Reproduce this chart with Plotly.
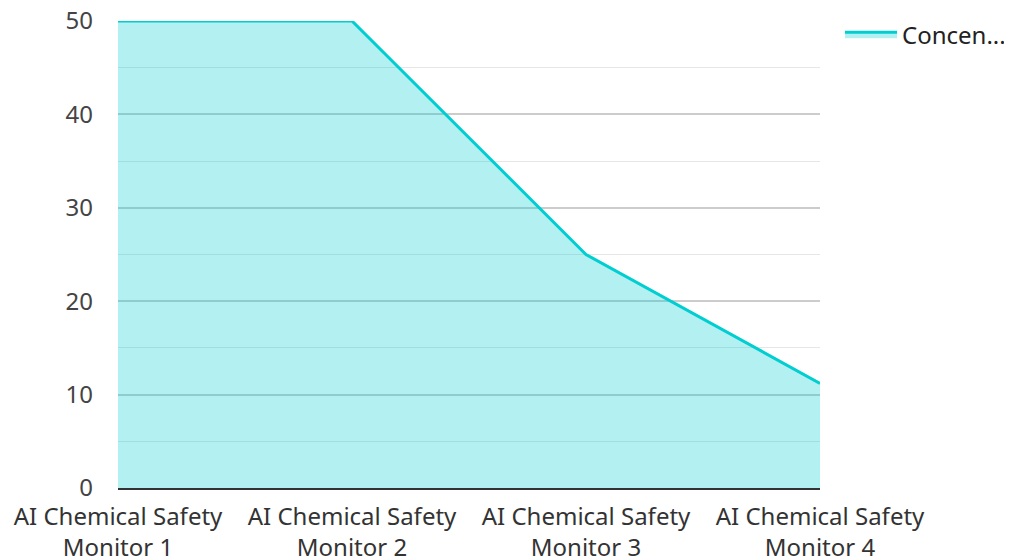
import plotly.graph_objects as go

categories = ["AI Chemical Safety<br>Monitor 1", "AI Chemical Safety<br>Monitor 2",
              "AI Chemical Safety<br>Monitor 3", "AI Chemical Safety<br>Monitor 4"]
values = [50, 50, 25, 11.2]
series_name = "Concen..."

line_color = "#00CED1"
fill_color = "rgba(0,206,209,0.3)"
font_family = "Noto Sans, Open Sans, sans-serif"

fig = go.Figure()
fig.add_trace(go.Scatter(
    x=categories, y=values, mode="lines", name=series_name,
    line=dict(color=line_color, width=3),
    fill="tozeroy", fillcolor=fill_color,
    showlegend=True,
))

fig.update_layout(
    width=1004, height=552,
    margin=dict(l=110, r=192, t=13, b=72, autoexpand=False),
    paper_bgcolor="white", plot_bgcolor="white",
    font=dict(family=font_family, size=24, color="#444"),
    showlegend=True,
    legend=dict(x=1.0285, y=1.019, xanchor="left", yanchor="top",
                itemwidth=52,
                font=dict(size=24, color="#222"), bgcolor="rgba(0,0,0,0)"),
    xaxis=dict(
        type="category", range=[0, 3], showgrid=False, zeroline=False,
        showline=True, linecolor="#333", linewidth=2, ticks="",
        tickfont=dict(size=24, color="#333"),
        ticklabelstandoff=6, ticklabeloverflow="allow",
    ),
    yaxis=dict(
        range=[0, 50], dtick=10, showgrid=True, gridcolor="#cccccc", gridwidth=1.5,
        zeroline=False, showline=False, ticks="",
        tickfont=dict(size=24, color="#444"),
        ticklabelstandoff=24, ticklabeloverflow="allow",
        minor=dict(dtick=5, showgrid=True, gridcolor="#e6e6e6", gridwidth=1),
    ),
)

fig.write_html("out.html")
